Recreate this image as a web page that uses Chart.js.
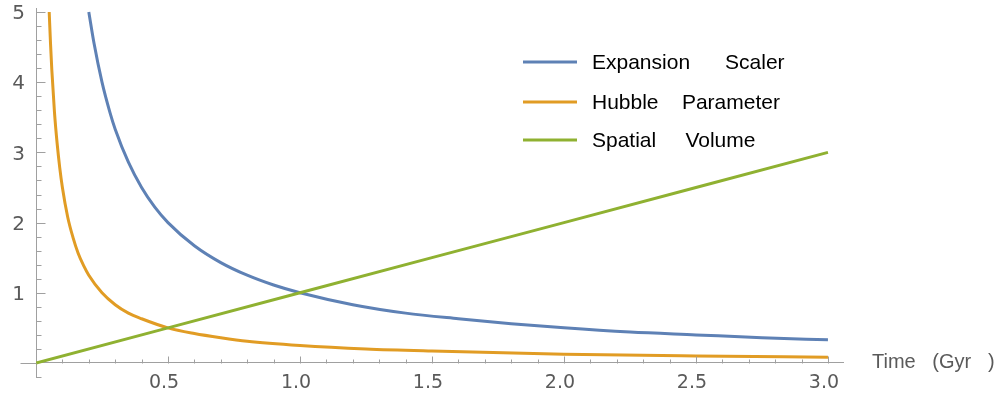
<!DOCTYPE html>
<html>
<head>
<meta charset="utf-8">
<script src="https://cdn.jsdelivr.net/npm/chart.js@4/dist/chart.umd.min.js"></script>
<style>
  html, body { margin: 0; padding: 0; background: #fff; }
  #wrap { width: 1003px; height: 394px; position: relative; }
</style>
</head>
<body>
<div id="wrap"><canvas id="cosmo"></canvas></div>
<script>
// values
const expansionT = [0.2, 0.22, 0.25, 0.28, 0.3, 0.35, 0.4, 0.45, 0.5, 0.6, 0.7, 0.8, 0.9, 1.0, 1.2, 1.4, 1.6, 1.8, 2.0, 2.25, 2.5, 2.75, 3.0];
const expansionV = [5.0, 4.55, 4.0, 3.57, 3.33, 2.86, 2.5, 2.22, 2.0, 1.67, 1.43, 1.25, 1.11, 1.0, 0.83, 0.71, 0.63, 0.56, 0.5, 0.44, 0.4, 0.36, 0.33];

const hubbleT = [0.05, 0.055, 0.06, 0.07, 0.08, 0.09, 0.1, 0.12, 0.14, 0.16, 0.18, 0.2, 0.25, 0.3, 0.35, 0.4, 0.5, 0.6, 0.7, 0.8, 1.0, 1.25, 1.5, 2.0, 2.5, 3.0];
const hubbleV = [5.0, 4.55, 4.17, 3.57, 3.13, 2.78, 2.5, 2.08, 1.79, 1.56, 1.39, 1.25, 1.0, 0.83, 0.71, 0.63, 0.5, 0.42, 0.36, 0.31, 0.25, 0.2, 0.17, 0.125, 0.1, 0.083];

const volumeT = [0, 0.5, 1.0, 1.5, 2.0, 2.5, 3.0];
const volumeV = [0, 0.5, 1.0, 1.5, 2.0, 2.5, 3.0];

const seriesNames = ["Expansion      Scaler", "Hubble    Parameter", "Spatial     Volume"];
const xTickLabels = [0.5, 1.0, 1.5, 2.0, 2.5, 3.0];
const yTickLabels = [1, 2, 3, 4, 5];
const xAxisTitle = "Time   (Gyr   )";

const colors = ["#5E81B5", "#E19C24", "#8FB131"];
const axisGray = "#a0a0a0";
const labelGray = "#5a5a5a";

function pts(xs, ys) {
    return xs.map((x, i) => ({ x: x, y: ys[i] }));
}

// keep tick label overflow from shrinking the plot area
function noPad(scale) {
    scale.paddingTop = 0;
    scale.paddingBottom = 0;
    scale.paddingLeft = 0;
    scale.paddingRight = 0;
}

// inward tick marks, axis stub, axis title and the legend
const decorations = {
    id: "decorations",
    afterDraw(chart) {
        const ctx = chart.ctx;
        const xs = chart.scales.x, ys = chart.scales.y;
        const x0 = Math.round(xs.getPixelForValue(0)) + 0.5;
        const y0 = Math.round(ys.getPixelForValue(0)) + 0.5;
        ctx.save();
        ctx.strokeStyle = axisGray;
        ctx.lineWidth = 1;
        ctx.beginPath();
        // x axis carries on a little left of the y axis
        ctx.moveTo(x0 - 16, y0);
        ctx.lineTo(x0, y0);
        // x ticks, every 0.1, major on 0.5
        for (let i = 1; i <= 30; i++) {
            const px = Math.round(xs.getPixelForValue(i / 10)) + 0.5;
            const len = (i % 5 === 0) ? 7 : 4;
            ctx.moveTo(px, y0);
            ctx.lineTo(px, y0 - len);
        }
        // y ticks, every 0.2, major on whole numbers
        for (let i = -1; i <= 25; i++) {
            if (i === 0) continue;
            const py = Math.round(ys.getPixelForValue(i / 5)) + 0.5;
            const len = (i % 5 === 0) ? 9 : 5;
            ctx.moveTo(x0, py);
            ctx.lineTo(x0 + len, py);
        }
        ctx.stroke();

        // axis title to the right of the x axis
        ctx.fillStyle = labelGray;
        ctx.font = "20px 'Liberation Sans', Arial, sans-serif";
        ctx.textBaseline = "middle";
        ctx.textAlign = "left";
        ctx.fillText(xAxisTitle, xs.right + 29, y0 - 1);

        // legend
        const rows = [62, 102, 140];
        ctx.font = "21px 'Liberation Sans', Arial, sans-serif";
        chart.data.datasets.forEach((ds, i) => {
            ctx.strokeStyle = ds.borderColor;
            ctx.lineWidth = 3;
            ctx.beginPath();
            ctx.moveTo(523, rows[i]);
            ctx.lineTo(577, rows[i]);
            ctx.stroke();
            ctx.fillStyle = "#000";
            ctx.fillText(ds.label, 592, rows[i] + 1);
        });
        ctx.restore();
    }
};

const ctx = document.getElementById("cosmo").getContext("2d");
new Chart(ctx, {
    type: "line",
    data: {
        datasets: [{
            label: seriesNames[0],
            data: pts(expansionT, expansionV),
            borderColor: colors[0],
            order: 2
        }, {
            label: seriesNames[1],
            data: pts(hubbleT, hubbleV),
            borderColor: colors[1],
            order: 1
        }, {
            label: seriesNames[2],
            data: pts(volumeT, volumeV),
            borderColor: colors[2],
            order: 0
        }]
    },
    options: {
        responsive: true,
        maintainAspectRatio: false,
        animation: false,
        layout: { padding: { left: 0, right: 160, top: 8, bottom: 17 } },
        elements: {
            point: { radius: 0 },
            line: { borderWidth: 3, cubicInterpolationMode: "monotone", fill: false }
        },
        plugins: {
            legend: { display: false },
            tooltip: { enabled: false }
        },
        scales: {
            x: {
                type: "linear",
                min: 0,
                max: 3.057,
                position: { y: 0 },
                grid: { display: false, drawTicks: false },
                border: { display: true, color: axisGray, width: 1 },
                afterBuildTicks: axis => { axis.ticks = xTickLabels.map(v => ({ value: v })); },
                afterFit: noPad,
                ticks: {
                    padding: 9,
                    labelOffset: -4,
                    color: labelGray,
                    maxRotation: 0,
                    font: { family: "'DejaVu Sans', sans-serif", size: 19 },
                    callback: v => v.toFixed(1)
                }
            },
            y: {
                type: "linear",
                min: -0.2,
                max: 5.057,
                position: "left",
                grid: { display: false, drawTicks: false },
                border: { display: true, color: axisGray, width: 1 },
                afterBuildTicks: axis => { axis.ticks = yTickLabels.map(v => ({ value: v })); },
                afterFit: scale => { noPad(scale); scale.width = 36; },
                ticks: {
                    padding: 11,
                    labelOffset: 2,
                    color: labelGray,
                    font: { family: "'DejaVu Sans', sans-serif", size: 20 },
                    callback: v => String(v)
                }
            }
        }
    },
    plugins: [decorations]
});
</script>
</body>
</html>
